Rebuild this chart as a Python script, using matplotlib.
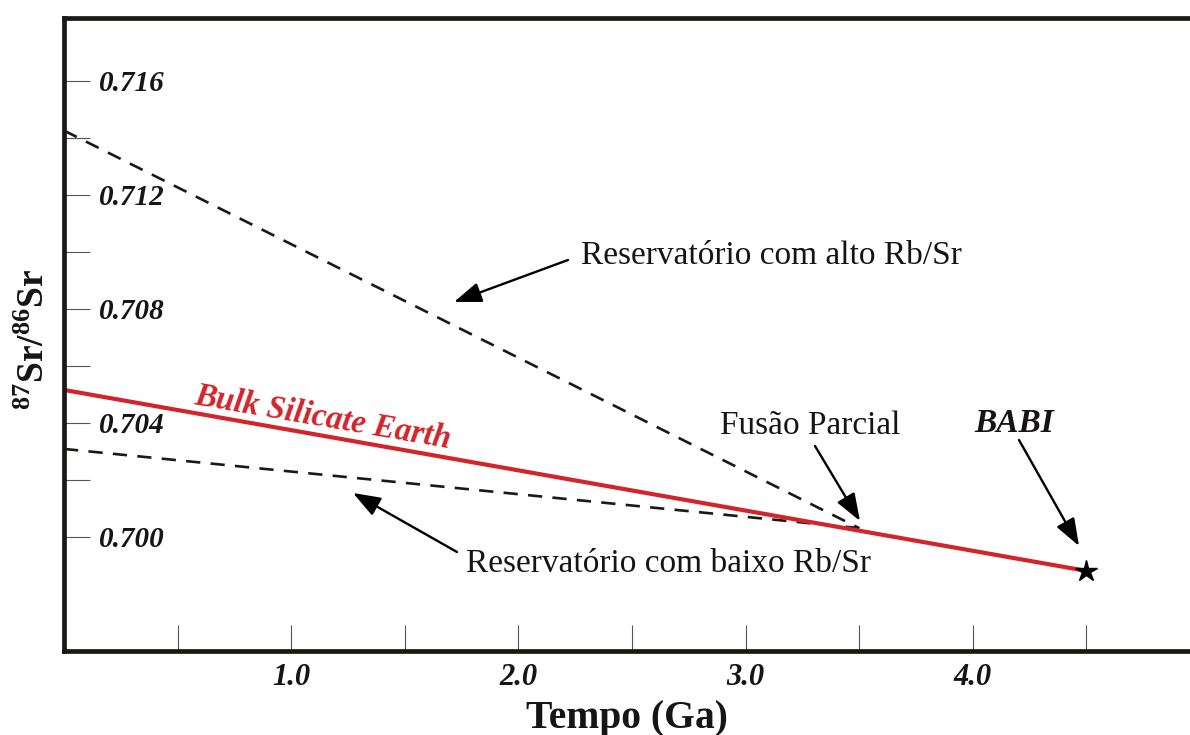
import matplotlib
matplotlib.use("Agg")
import matplotlib.pyplot as plt

# ---------------- data ----------------
bse_age = [0.0, 4.5]                 # Ga
bse_sr = [0.70515, 0.69880]          # 87Sr/86Sr, Bulk Silicate Earth
melt_age = 3.5                       # partial melting event (Ga)
melt_sr = 0.70030
high_rbsr_age = [0.0, melt_age]
high_rbsr_sr = [0.71425, melt_sr]    # high Rb/Sr reservoir
low_rbsr_age = [0.0, melt_age]
low_rbsr_sr = [0.70308, melt_sr]     # low Rb/Sr reservoir
babi_age = [4.5]
babi_sr = [0.69880]

x_ticks = [0.5, 1.0, 1.5, 2.0, 2.5, 3.0, 3.5, 4.0, 4.5]
x_tick_labels = ["", "1.0", "", "2.0", "", "3.0", "", "4.0", ""]
y_ticks = [0.700, 0.702, 0.704, 0.706, 0.708, 0.710, 0.712, 0.714, 0.716]
y_tick_labels = ["0.700", "", "0.704", "", "0.708", "", "0.712", "", "0.716"]

label_high = "Reservatório com alto Rb/Sr"
label_low = "Reservatório com baixo Rb/Sr"
label_melt = "Fusão Parcial"
label_babi = "BABI"
label_bse = "Bulk Silicate Earth"
x_label = "Tempo (Ga)"
y_label = r"$^{87}$Sr/$^{86}$Sr"

# ---------------- style ----------------
plt.rcParams["font.family"] = ["Liberation Serif", "DejaVu Serif"]
plt.rcParams["mathtext.fontset"] = "custom"
plt.rcParams["mathtext.rm"] = "Liberation Serif:bold"
plt.rcParams["mathtext.bf"] = "Liberation Serif:bold"
plt.rcParams["mathtext.it"] = "Liberation Serif:bold:italic"

RED = "#d3242b"
INK = "#1c1816"
TXT = "#161414"

W, H = 1190, 735
fig = plt.figure(figsize=(W / 100, H / 100), dpi=100)
left_px, right_px, top_px, bottom_px = 64.0, 1190.0, 17.5, 650.7
ax = fig.add_axes([left_px / W, 1 - bottom_px / H,
                   (right_px - left_px) / W, (bottom_px - top_px) / H])

px_per_ga = 227.2
px_per_unit = 28500.0
ax.set_xlim(0, (right_px - left_px) / px_per_ga)
ax.set_ylim(0.696, 0.696 + (bottom_px - top_px) / px_per_unit)

# lines
ax.plot(high_rbsr_age, high_rbsr_sr, color=INK, lw=1.9, dashes=(5.4, 3.9),
        dash_capstyle="butt")
ax.plot(low_rbsr_age, low_rbsr_sr, color=INK, lw=1.9, dashes=(5.4, 3.9),
        dash_capstyle="butt")
ax.plot(bse_age, bse_sr, color=RED, lw=3.0, solid_capstyle="butt")
ax.plot(babi_age, babi_sr, marker="*", ms=16, color="black", ls="none")

# spines / ticks
for side in ("left", "top", "bottom"):
    ax.spines[side].set_linewidth(3.4)
    ax.spines[side].set_color(INK)
ax.spines["right"].set_visible(False)

ax.set_xticks(x_ticks)
ax.set_xticklabels(x_tick_labels, fontsize=22, fontweight="bold", style="italic",
                   color=TXT)
ax.set_yticks(y_ticks)
ax.set_yticklabels(y_tick_labels, fontsize=21, fontweight="bold", style="italic",
                   ha="left", color=TXT)
ax.tick_params(axis="both", direction="in", length=19, width=0.8, color="#555555")
ax.tick_params(axis="x", pad=9)
ax.tick_params(axis="y", pad=-25.4)
for t in ax.get_yticklabels():
    t.set_horizontalalignment("left")

ax.set_xlabel(x_label, fontsize=28.5, fontweight="bold", va="baseline", color=TXT)
ax.xaxis.set_label_coords(0.5, (bottom_px - 728) / (bottom_px - top_px))
ax.set_ylabel(y_label, fontsize=27, fontweight="bold", va="center", color=TXT)
ax.yaxis.set_label_coords((34 - left_px) / (right_px - left_px),
                          (bottom_px - 339) / (bottom_px - top_px))


def dx(px):
    return (px - left_px) / px_per_ga


def dy(py):
    return 0.700 + (536.7 - py) / px_per_unit


arrow = dict(arrowstyle="-|>,head_length=0.6,head_width=0.22", color="black",
             lw=1.7, mutation_scale=28, shrinkA=0, shrinkB=0)

ax.annotate("", xy=(dx(454), dy(302)), xytext=(dx(568), dy(260)), arrowprops=arrow)
ax.annotate("", xy=(dx(353), dy(493)), xytext=(dx(457), dy(552)), arrowprops=arrow)
ax.annotate("", xy=(dx(860), dy(521)), xytext=(dx(815), dy(446)), arrowprops=arrow)
ax.annotate("", xy=(dx(1079), dy(546)), xytext=(dx(1019), dy(440)), arrowprops=arrow)

txt = dict(fontsize=24, color=TXT, ha="left", va="baseline")
ax.text(dx(581), dy(264), label_high, **txt)
ax.text(dx(466), dy(572), label_low, **txt)
ax.text(dx(720), dy(434), label_melt, **txt)
ax.text(dx(974), dy(432), label_babi, fontsize=24, fontweight="bold", style="italic",
        ha="left", va="baseline", color=TXT)
ax.text(dx(321.5), dy(426.5), label_bse, fontsize=23.5, fontweight="bold",
        style="italic", color=RED, ha="center", va="baseline",
        rotation=-9.8, rotation_mode="anchor")

fig.savefig("out.png", dpi=100)
